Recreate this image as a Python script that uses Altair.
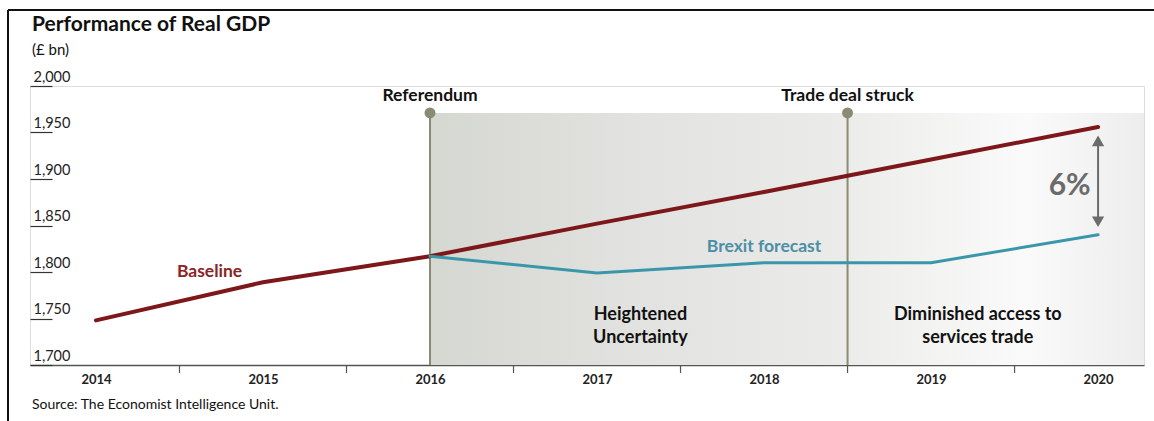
import altair as alt
import pandas as pd

# ---- data ----
years = [2014, 2015, 2016, 2017, 2018, 2019, 2020]
baseline = [1748, 1789, 1817, 1852, 1886, 1921, 1956]
forecast_years = [2016, 2017, 2018, 2019, 2020]
brexit = [1817, 1799, 1810, 1810, 1840]
y_ticks = [1700, 1750, 1800, 1850, 1900, 1950, 2000]
half_years = [2014.5, 2015.5, 2016.5, 2017.5, 2018.5, 2019.5]
event_names = ["Referendum", "Trade deal struck"]
event_x = [2016, 2018.5]
shade_top = 1971
x_min, x_max = 2013.605, 2020.275
gap_top, gap_bottom = 1941, 1854

FONT = "Lato"
RED = "#7d1719"
TEAL = "#3a97aa"
EVENT = "#8b8b74"
GREY = "#6b6b6b"

W, H = 1114, 279

xs = alt.Scale(domain=[x_min, x_max], nice=False, zero=False)
ys = alt.Scale(domain=[1700, 2000], nice=False, zero=False)

one = pd.DataFrame({"k": [0]})

# shaded regions
shade_df1 = pd.DataFrame({"x": [event_x[0]], "x2": [event_x[1]], "y": [1700], "y2": [shade_top]})
shade_df2 = pd.DataFrame({"x": [event_x[1]], "x2": [x_max], "y": [1700], "y2": [shade_top]})
shade1 = alt.Chart(shade_df1).mark_rect(
    fill=alt.LinearGradient(gradient="linear",
                            stops=[alt.GradientStop(color="#d5d7d1", offset=0),
                                   alt.GradientStop(color="#e2e3e0", offset=0.5),
                                   alt.GradientStop(color="#ebebe9", offset=1)],
                            x1=0, x2=1, y1=0, y2=0)
).encode(x=alt.X("x:Q", scale=xs), x2="x2", y=alt.Y("y:Q", scale=ys), y2="y2")
shade2 = alt.Chart(shade_df2).mark_rect(
    fill=alt.LinearGradient(gradient="linear",
                            stops=[alt.GradientStop(color="#ececea", offset=0),
                                   alt.GradientStop(color="#fafafa", offset=0.6),
                                   alt.GradientStop(color="#f2f2f2", offset=0.85),
                                   alt.GradientStop(color="#ededed", offset=1)],
                            x1=0, x2=1, y1=0, y2=0)
).encode(x=alt.X("x:Q", scale=xs), x2="x2", y=alt.Y("y:Q", scale=ys), y2="y2")

# base axes layer
axis_df = pd.DataFrame({"year": years, "value": baseline})
axes = alt.Chart(axis_df).mark_point(opacity=0).encode(
    x=alt.X("year:Q", scale=xs, title=None,
            axis=alt.Axis(values=years, format="d", ticks=False, grid=False,
                          domainColor="#555555", domainWidth=1.5,
                          labelFont=FONT, labelFontSize=13, labelFontWeight="bold",
                          labelColor="#222222", labelPadding=8, labelFlush=False)),
    y=alt.Y("value:Q", scale=ys, title=None,
            axis=alt.Axis(values=y_ticks, format=",.0f", domain=False, grid=False,
                          ticks=True, tickSize=22, tickColor="#333333", tickWidth=1.2,
                          offset=-22, labelAlign="left", labelBaseline="bottom",
                          labelPadding=-3, labelOffset=-2, labelFont=FONT,
                          labelFontSize=14.5, labelColor="#222222")),
)

# half-year ticks
tick_df = pd.DataFrame({"x": half_years})
ticks = alt.Chart(tick_df).mark_rule(color="#555555", strokeWidth=1.2).encode(
    x=alt.X("x:Q", scale=xs), y=alt.value(H), y2=alt.value(H + 8))

# event lines
ev_df = pd.DataFrame({"x": event_x, "name": event_names, "y": [1700] * 2, "y2": [shade_top] * 2})
ev_lines = alt.Chart(ev_df).mark_rule(color=EVENT, strokeWidth=2).encode(
    x=alt.X("x:Q", scale=xs), y=alt.Y("y:Q", scale=ys), y2="y2")
ev_dots = alt.Chart(ev_df).mark_circle(color=EVENT, opacity=1, size=120).encode(
    x=alt.X("x:Q", scale=xs), y=alt.Y("y2:Q", scale=ys))
ev_text = alt.Chart(ev_df).mark_text(font=FONT, fontSize=17.5, fontWeight="bold",
                                     color="#111111", baseline="middle").encode(
    x=alt.X("x:Q", scale=xs), y=alt.value(10), text="name:N")

# lines
base_df = pd.DataFrame({"year": years, "value": baseline})
brex_df = pd.DataFrame({"year": forecast_years, "value": brexit})
base_line = alt.Chart(base_df).mark_line(color=RED, strokeWidth=4, strokeCap="round").encode(
    x=alt.X("year:Q", scale=xs), y=alt.Y("value:Q", scale=ys))
brex_line = alt.Chart(brex_df).mark_line(color=TEAL, strokeWidth=3, strokeCap="round").encode(
    x=alt.X("year:Q", scale=xs), y=alt.Y("value:Q", scale=ys))

# gap arrow
arrow_df = pd.DataFrame({"x": [2020], "y": [gap_bottom], "y2": [gap_top]})
arrow = alt.Chart(arrow_df).mark_rule(color=GREY, strokeWidth=2).encode(
    x=alt.X("x:Q", scale=xs), y=alt.Y("y:Q", scale=ys), y2="y2")
head_df = pd.DataFrame({"x": [2020, 2020], "y": [gap_top, gap_bottom],
                        "shape": ["triangle-up", "triangle-down"]})
heads = alt.Chart(head_df).mark_point(filled=True, color=GREY, opacity=1, size=150).encode(
    x=alt.X("x:Q", scale=xs), y=alt.Y("y:Q", scale=ys),
    shape=alt.Shape("shape:N", scale=None, legend=None))

# annotations
ann_df = pd.DataFrame({
    "x": [2014.68, 2018.0, 2017.26, 2019.28, 2019.83],
    "y": [1800, 1827, 1754, 1754, 1893],
    "text": [["Baseline"], ["Brexit forecast"], ["Heightened", "Uncertainty"],
             ["Diminished access to", "services trade"], ["6%"]],
    "kind": ["base", "brex", "ev", "ev", "pct"],
})
ann_base = alt.Chart(ann_df[ann_df.kind == "base"]).mark_text(
    font=FONT, fontSize=17.5, fontWeight="bold", color="#8a2426").encode(
    x=alt.X("x:Q", scale=xs), y=alt.Y("y:Q", scale=ys), text="text")
ann_brex = alt.Chart(ann_df[ann_df.kind == "brex"]).mark_text(
    font=FONT, fontSize=17.5, fontWeight="bold", color="#4a8fa6").encode(
    x=alt.X("x:Q", scale=xs), y=alt.Y("y:Q", scale=ys), text="text")
ann_ev = alt.Chart(ann_df[ann_df.kind == "ev"]).mark_text(
    font=FONT, fontSize=18, fontWeight="bold", color="#111111", lineHeight=23).encode(
    x=alt.X("x:Q", scale=xs), y=alt.Y("y:Q", scale=ys), text="text")
ann_pct = alt.Chart(ann_df[ann_df.kind == "pct"]).mark_text(
    font=FONT, fontSize=30, fontWeight="bold", color=GREY).encode(
    x=alt.X("x:Q", scale=xs), y=alt.Y("y:Q", scale=ys), text="text")

# titles and source
title = alt.Chart(one).mark_text(font=FONT, fontSize=21, fontWeight="bold", color="#111111",
                                 align="left", baseline="middle").encode(
    x=alt.value(2), y=alt.value(-61), text=alt.value("Performance of Real GDP"))
unit = alt.Chart(one).mark_text(font=FONT, fontSize=15, color="#111111",
                                align="left", baseline="middle").encode(
    x=alt.value(2), y=alt.value(-36), text=alt.value("(£ bn)"))
source = alt.Chart(one).mark_text(font=FONT, fontSize=14, color="#111111",
                                  align="left", baseline="middle").encode(
    x=alt.value(2), y=alt.value(319), text=alt.value("Source: The Economist Intelligence Unit."))

# frame
frame_left = alt.Chart(one).mark_rule(color="#111111", strokeWidth=2).encode(
    x=alt.value(-22), y=alt.value(-76), y2=alt.value(340))
frame_top = alt.Chart(one).mark_rule(color="#111111", strokeWidth=2).encode(
    x=alt.value(-22), x2=alt.value(1130), y=alt.value(-76))

chart = alt.layer(
    shade1, shade2, axes, ticks, ev_lines, ev_dots, ev_text,
    base_line, brex_line, arrow, heads,
    ann_base, ann_brex, ann_ev, ann_pct,
    title, unit, source, frame_left, frame_top,
).properties(
    width=W, height=H,
    autosize=alt.AutoSizeParams(type="none"),
    padding={"left": 30, "top": 86, "right": 10, "bottom": 56},
).configure_view(stroke=None).configure(background="white")

chart.save("out.html", embed_options={"renderer": "svg", "actions": False})
